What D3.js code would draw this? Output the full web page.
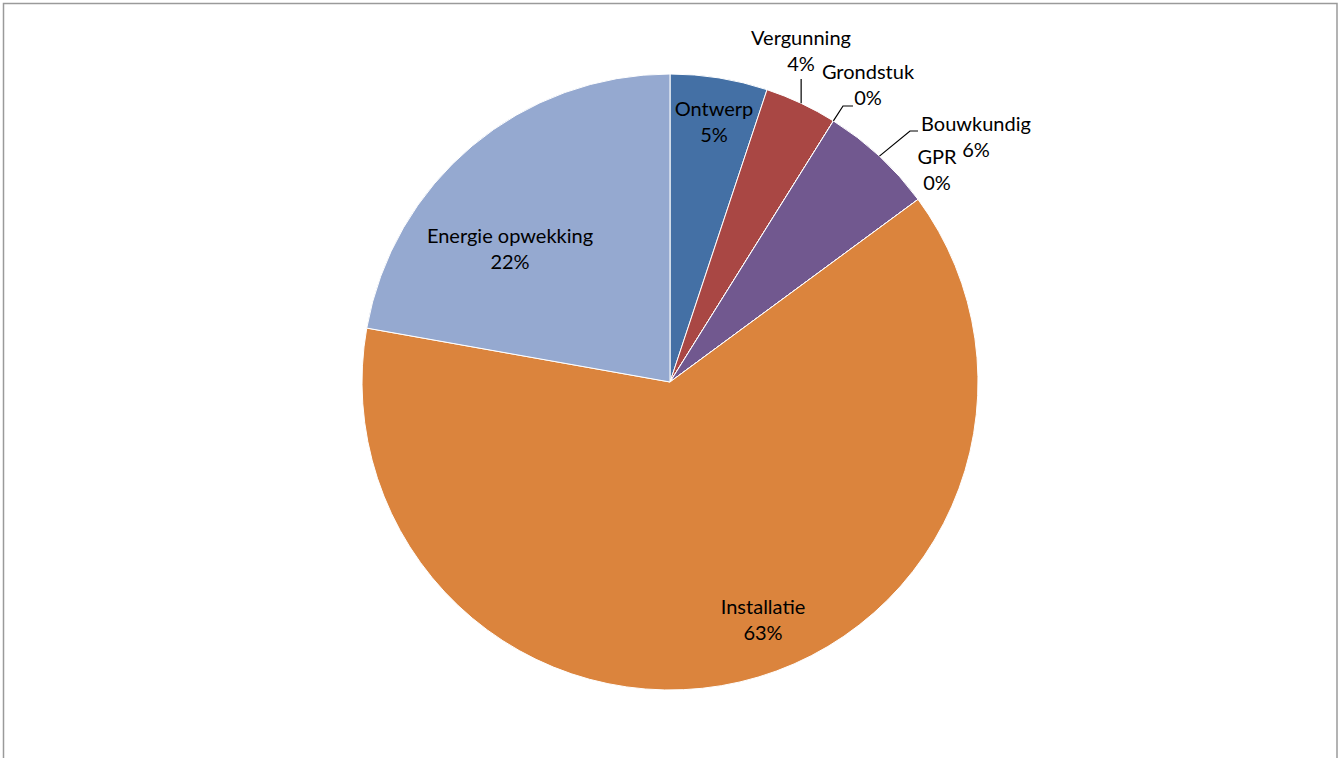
<!DOCTYPE html>
<html>
<head>
<meta charset="utf-8">
<script src="https://cdn.jsdelivr.net/npm/d3@7"></script>
<style>
  html, body { margin: 0; padding: 0; background: #fff; }
  #output { width: 1344px; height: 758px; }
  .lbl { font-family: Lato, "Open Sans", sans-serif; font-size: 20px; fill: #000; }
</style>
</head>
<body>
<div id="output"></div>
<script>
const categories = ['Ontwerp', 'Vergunning', 'Grondstuk', 'Bouwkundig', 'GPR', 'Installatie', 'Energie opwekking'];
const values = [5.1, 3.8, 0, 6.0, 0, 62.9, 22.2];
const colors = ['#4470A5', '#A94744', '#89A54E', '#71588F', '#4198AF', '#DB843D', '#95A9D0'];

// label placement (first baseline, offset from pie centre) and leader elbows
const labelPos = [
  { dx: 44, dy: -266 },
  { dx: 131, dy: -337, leader: { y: -303 } },
  { dx: 198, dy: -303, leader: { ex: 173, ey: -276, hx: 183 } },
  { dx: 306, dy: -251, leader: { ex: 240, ey: -251, hx: 248 } },
  { dx: 267, dy: -218 },
  { dx: 93, dy: 232 },
  { dx: -160, dy: -139 }
];

function draw() {
  const width = 1344, height = 758;
  const cx = 670, cy = 382, R = 308;

  const svg = d3.select('#output').append('svg')
    .attr('width', width).attr('height', height);

  // chart frame
  svg.append('path')
    .attr('d', `M3.5,${height + 2} V3.5 H1337 V${height + 2}`)
    .attr('fill', 'none')
    .attr('stroke', '#9a9a9a')
    .attr('stroke-width', 1.5);

  const pie = d3.pie().sort(null).value(d => d.value);
  const data = pie(categories.map((c, i) => ({ name: c, value: values[i], color: colors[i], pos: labelPos[i] })));
  const arc = d3.arc().innerRadius(0).outerRadius(R);

  const g = svg.append('g').attr('transform', `translate(${cx},${cy})`);

  g.selectAll('path.slice')
    .data(data)
    .join('path')
    .attr('class', 'slice')
    .attr('d', arc)
    .attr('fill', d => d.data.color)
    .attr('stroke', '#fff')
    .attr('stroke-width', 1);

  // leader lines from the slice's outer edge
  data.forEach(d => {
    const l = d.data.pos.leader;
    if (!l) return;
    const mid = (d.startAngle + d.endAngle) / 2;
    const x0 = Math.sin(mid) * R, y0 = -Math.cos(mid) * R;
    const pts = l.ex === undefined
      ? [[x0, y0], [x0, l.y]]
      : [[x0, y0], [l.ex, l.ey], [l.hx, l.ey]];
    g.append('path')
      .attr('d', d3.line()(pts))
      .attr('fill', 'none')
      .attr('stroke', '#000')
      .attr('stroke-width', 1.2);
  });

  const t = g.selectAll('text.lbl')
    .data(data)
    .join('text')
    .attr('class', 'lbl')
    .attr('text-anchor', 'middle')
    .attr('transform', d => `translate(${d.data.pos.dx},${d.data.pos.dy})`);

  t.append('tspan').attr('x', 0).attr('dy', 0).text(d => d.data.name);
  t.append('tspan').attr('x', 0).attr('dy', 26).text(d => Math.round(d.data.value) + '%');
}

draw();
</script>
</body>
</html>
